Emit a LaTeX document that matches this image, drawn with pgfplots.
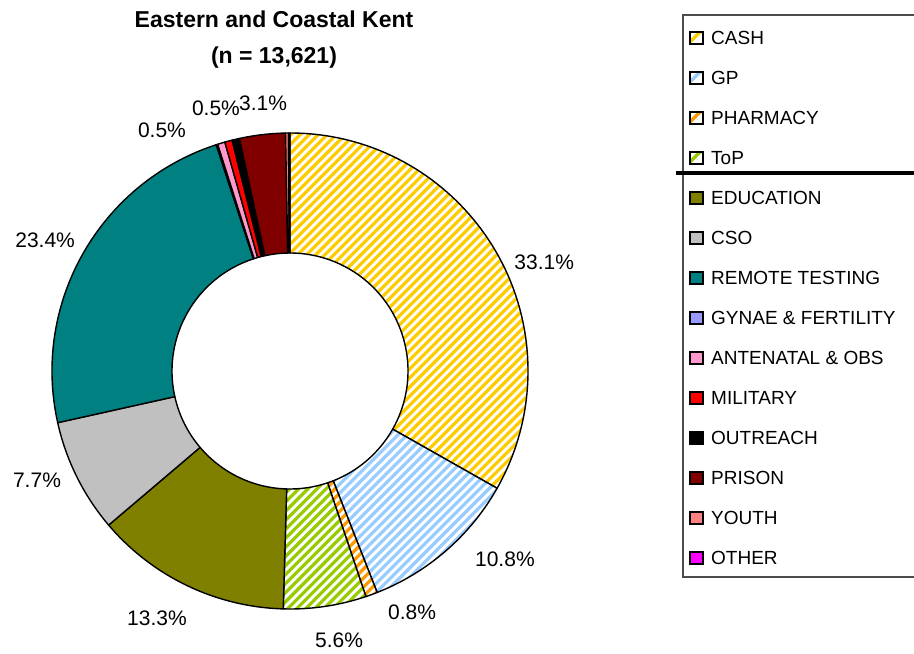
\documentclass[border=0pt]{standalone}
\usepackage{fontspec}
\setmainfont{Liberation Sans}
\usepackage{pgfplots}
\pgfplotsset{compat=1.18}
\usepackage{pgfplotstable}

\definecolor{cashc}{HTML}{FFCC00}
\definecolor{gpc}{HTML}{99CCFF}
\definecolor{pharmc}{HTML}{FF9900}
\definecolor{topc}{HTML}{99CC00}
\definecolor{educ}{HTML}{808000}
\definecolor{csoc}{HTML}{C0C0C0}
\definecolor{remc}{HTML}{008080}
\definecolor{gync}{HTML}{9999FF}
\definecolor{antc}{HTML}{FF99CC}
\definecolor{milc}{HTML}{FF0000}
\definecolor{outc}{HTML}{000000}
\definecolor{prisc}{HTML}{800000}
\definecolor{youc}{HTML}{FF8080}
\definecolor{othc}{HTML}{FF00FF}
\colorlet{sc0}{cashc}\colorlet{sc1}{gpc}\colorlet{sc2}{pharmc}\colorlet{sc3}{topc}
\colorlet{sc4}{educ}\colorlet{sc5}{csoc}\colorlet{sc6}{remc}\colorlet{sc7}{gync}
\colorlet{sc8}{antc}\colorlet{sc9}{milc}\colorlet{sc10}{outc}\colorlet{sc11}{prisc}
\colorlet{sc12}{youc}\colorlet{sc13}{othc}

% share of each clinic type (percent)
\pgfplotstableread{
name v
CASH 33.1
GP 10.8
PHARMACY 0.8
ToP 5.6
EDUCATION 13.3
CSO 7.7
REMOTE 23.4
GYNAE 0.1
ANTENATAL 0.5
MILITARY 0.5
OUTREACH 0.5
PRISON 3.1
YOUTH 0.2
OTHER 0.1
}\slices
\pgfplotstablecreatecol[create col/expr accum={\pgfmathaccuma+\thisrow{v}}{0}]{cum}\slices
\pgfplotstablegetelem{13}{cum}\of\slices
\let\total\pgfplotsretval
\pgfplotsforeachungrouped \i in {0,...,13}{%
  \pgfplotstablegetelem{\i}{cum}\of\slices\let\cc\pgfplotsretval
  \pgfplotstablegetelem{\i}{v}\of\slices\let\vv\pgfplotsretval
  \pgfmathsetmacro\tmpS{90-(\cc-\vv)/\total*360}%
  \pgfmathsetmacro\tmpE{90-\cc/\total*360}%
  \expandafter\xdef\csname angS\i\endcsname{\tmpS}%
  \expandafter\xdef\csname angE\i\endcsname{\tmpE}%
}
\newcommand\angS[1]{\csname angS#1\endcsname}
\newcommand\angE[1]{\csname angE#1\endcsname}
\def\rin{0.4958}
\newcommand\slicepath[2]{%
  \path[#2] (axis cs:{cos(\angS{#1})},{sin(\angS{#1})})
    arc[start angle=\angS{#1}, end angle=\angE{#1}, radius=238pt]
    -- (axis cs:{\rin*cos(\angE{#1})},{\rin*sin(\angE{#1})})
    arc[start angle=\angE{#1}, end angle=\angS{#1}, radius=118pt]
    -- cycle;}

\begin{document}
\begin{tikzpicture}
\path[use as bounding box, clip] (0pt,0pt) rectangle (914pt,-654pt);
\begin{axis}[
  at={(290pt,-371pt)}, anchor=center,
  width=476pt, height=476pt, scale only axis,
  xmin=-1, xmax=1, ymin=-1, ymax=1,
  hide axis, clip=false,
]
\pgfplotsextra{
  \foreach \k in {0,...,13}{
    \ifnum\k<4
      \begin{scope}
        \slicepath{\k}{clip}
        \slicepath{\k}{fill=white}
        \foreach \d in {-40,...,40}{
          \draw[sc\k, line width=3.2pt]
            ([shift={({\d*4.525pt-300pt},{-\d*4.525pt-300pt})}]axis cs:0,0)
            -- ++(600pt,600pt);
        }
      \end{scope}
      \slicepath{\k}{draw=black, line width=1.4pt, line join=round}
    \else
      \slicepath{\k}{fill=sc\k, draw=black, line width=1.4pt, line join=round}
    \fi
  }
}
\begin{scope}[every node/.style={font=\fontsize{21}{25}\selectfont}]
\node at (axis cs:1.068,0.458) {33.1\%};
\node at (axis cs:0.903,-0.790) {10.8\%};
\node at (axis cs:0.513,-1.013) {0.8\%};
\node at (axis cs:0.206,-1.130) {5.6\%};
\node at (axis cs:-0.559,-1.038) {13.3\%};
\node at (axis cs:-1.063,-0.458) {7.7\%};
\node at (axis cs:-1.029,0.550) {23.4\%};
\node at (axis cs:-0.538,1.013) {0.5\%};
\node at (axis cs:-0.311,1.105) {0.5\%};
\node at (axis cs:-0.113,1.126) {3.1\%};
\end{scope}
\end{axis}
\begin{scope}[x=1pt,y=-1pt]
\node[anchor=base, font=\bfseries\fontsize{23}{28}\selectfont] at (274,27) {Eastern and Coastal Kent};
\node[anchor=base, font=\bfseries\fontsize{23}{28}\selectfont] at (274,63) {(n = 13,621)};
\draw[line width=1.5pt, draw=black!70] (683,15) rectangle (980,577);
\foreach \t [count=\k from 0] in {CASH, GP, PHARMACY, ToP, EDUCATION, CSO, REMOTE TESTING, GYNAE \& FERTILITY, ANTENATAL \& OBS, MILITARY, OUTREACH, PRISON, YOUTH, OTHER}{
  \pgfmathsetmacro\yy{38+40*\k}
  \ifnum\k<4
    \begin{scope}
      \clip (690,\yy-6) rectangle (703,\yy+6);
      \draw[sc\k, line width=3.5pt] (688,\yy+6) -- (704,\yy-10);
    \end{scope}
    \draw[black, line width=1.2pt] (690,\yy-6) rectangle (703,\yy+6);
  \else
    \path[fill=sc\k, draw=black, line width=1.2pt] (690,\yy-6) rectangle (703,\yy+6);
  \fi
  \node[anchor=west, inner sep=0pt, font=\fontsize{19}{23}\selectfont] at (711,\yy) {\t};
}
\draw[line width=4pt] (676,173) -- (980,173);
\end{scope}
\end{tikzpicture}
\end{document}
